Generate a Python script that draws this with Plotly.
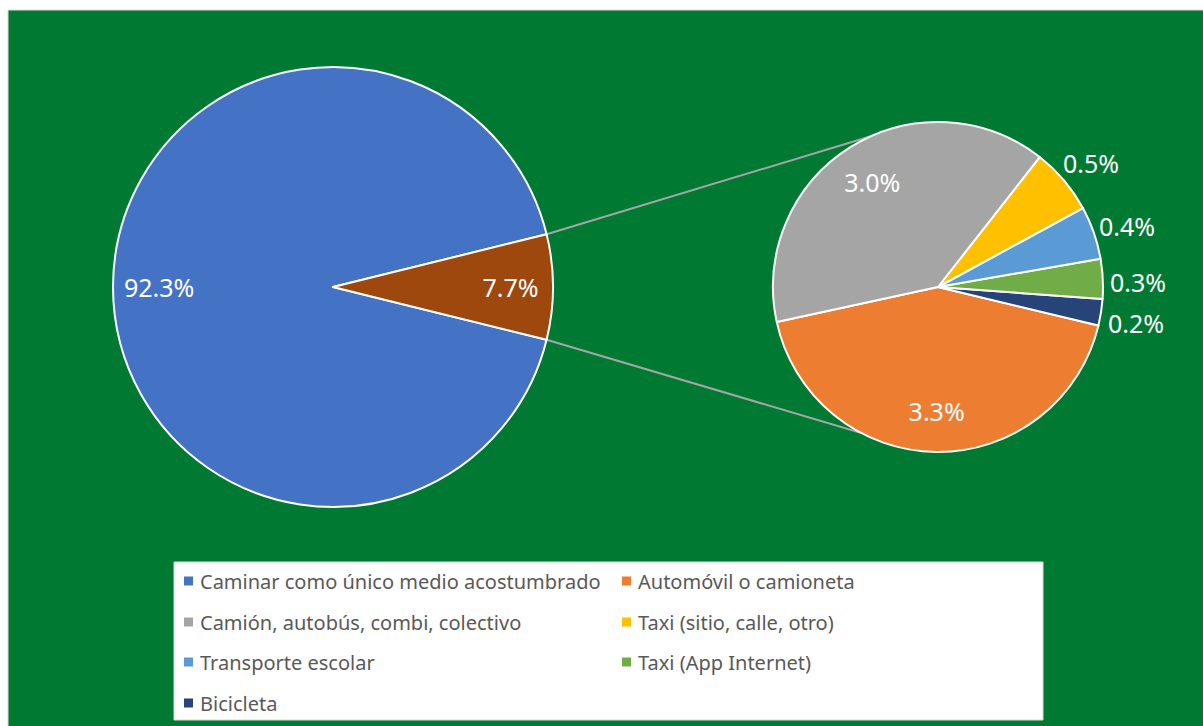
import plotly.graph_objects as go
import math

W, H = 1203, 726

# ---- data ----
main_labels = ["Caminar como único medio acostumbrado", "Otros medios"]
main_values = [92.3, 7.7]
main_colors = ["#4472C4", "#9E480E"]

sub_labels = ["Automóvil o camioneta", "Bicicleta", "Taxi (App Internet)",
              "Transporte escolar", "Taxi (sitio, calle, otro)",
              "Camión, autobús, combi, colectivo"]
sub_values = [3.3, 0.2, 0.3, 0.4, 0.5, 3.0]
sub_colors = ["#ED7D31", "#264478", "#70AD47", "#5B9BD5", "#FFC000", "#A5A5A5"]
sub_outside = [False, True, True, True, True, False]

legend_order = ["Caminar como único medio acostumbrado", "Automóvil o camioneta",
                "Camión, autobús, combi, colectivo", "Taxi (sitio, calle, otro)",
                "Transporte escolar", "Taxi (App Internet)", "Bicicleta"]
color_of = dict(zip(main_labels, main_colors))
color_of.update(dict(zip(sub_labels, sub_colors)))

BG = "#007A33"
FONT = "Noto Sans"
LBL = 25


def px(x):
    return x / W


def py(y):
    return 1 - y / H


def fmt(v):
    return f"{v:.1f}%"


# geometry of the two pies (pixels)
c1, r1 = (333, 287), 220
c2, r2 = (938, 287), 165

half = main_values[1] / sum(main_values) * 360 / 2
dom1 = dict(x=[px(c1[0] - r1), px(c1[0] + r1)], y=[py(c1[1] + r1), py(c1[1] - r1)])
dom2 = dict(x=[px(c2[0] - r2), px(c2[0] + r2)], y=[py(c2[1] + r2), py(c2[1] - r2)])
clear = "rgba(0,0,0,0)"

fig = go.Figure()
# main pie (slices)
fig.add_trace(go.Pie(
    labels=main_labels, values=main_values, sort=False,
    direction="counterclockwise", rotation=90 + half,
    marker=dict(colors=main_colors, line=dict(color="white", width=2)),
    textinfo="none", domain=dom1, showlegend=False, hoverinfo="label+percent",
))
# main pie labels (transparent ring so the labels sit near the rim)
fig.add_trace(go.Pie(
    labels=main_labels, values=main_values, sort=False, hole=0.58,
    direction="counterclockwise", rotation=90 + half,
    marker=dict(colors=[clear] * 2, line=dict(width=0)),
    text=[fmt(v) for v in main_values], texttemplate="%{text}",
    textposition="inside", insidetextorientation="horizontal",
    textfont=dict(family=FONT, size=LBL, color="white"),
    domain=dom1, showlegend=False, hoverinfo="skip",
))

first_end = 346.5  # angle (deg, math convention) where the first slice ends
rot2 = 90 - first_end
fig.add_trace(go.Pie(
    labels=sub_labels, values=sub_values, sort=False,
    direction="counterclockwise", rotation=rot2,
    marker=dict(colors=sub_colors, line=dict(color="white", width=2)),
    textinfo="none", domain=dom2, showlegend=False, hoverinfo="label+value",
))
# inside labels of the secondary pie (transparent ring)
fig.add_trace(go.Pie(
    labels=sub_labels, values=sub_values, sort=False, hole=0.5,
    direction="counterclockwise", rotation=rot2,
    marker=dict(colors=[clear] * len(sub_values), line=dict(width=0)),
    text=["" if o else fmt(v) for v, o in zip(sub_values, sub_outside)],
    texttemplate="%{text}", textposition="inside", insidetextorientation="horizontal",
    textfont=dict(family=FONT, size=LBL, color="white"),
    domain=dom2, showlegend=False, hoverinfo="skip",
))

annotations = []
# outside labels of the secondary pie, at a fixed radius along each slice bisector
sub_total = sum(sub_values)
ang = first_end
lab_r = 200
for v, o in zip(sub_values[1:], sub_outside[1:]):
    span = v / sub_total * 360
    mid = math.radians(ang + span / 2)
    ang += span
    if o:
        annotations.append(dict(
            text=fmt(v), xref="paper", yref="paper", showarrow=False,
            x=px(c2[0] + lab_r * math.cos(mid)), y=py(c2[1] - lab_r * math.sin(mid) + 5),
            xanchor="center", yanchor="middle",
            font=dict(family=FONT, size=LBL, color="white")))

shapes = [dict(type="rect", xref="paper", yref="paper", layer="below",
               x0=px(8), x1=px(W + 2), y0=py(H + 2), y1=py(10),
               fillcolor=BG, line=dict(color="#D9D9D9", width=1))]

# connector lines from the "otros" slice edges to the secondary pie
a = math.radians(half)
p_up = (c1[0] + r1 * math.cos(a), c1[1] - r1 * math.sin(a))
p_dn = (c1[0] + r1 * math.cos(a), c1[1] + r1 * math.sin(a))
q_up_ang, q_dn_ang = math.radians(114), math.radians(242)
q_up = (c2[0] + r2 * math.cos(q_up_ang), c2[1] - r2 * math.sin(q_up_ang))
q_dn = (c2[0] + r2 * math.cos(q_dn_ang), c2[1] - r2 * math.sin(q_dn_ang))
for p, q in [(p_up, q_up), (p_dn, q_dn)]:
    shapes.append(dict(type="line", xref="paper", yref="paper", layer="below",
                       x0=px(p[0]), y0=py(p[1]), x1=px(q[0]), y1=py(q[1]),
                       line=dict(color="#A5A5A5", width=2)))

# legend box (manual, two columns)
lx0, ly0, lx1, ly1 = 174, 562, 1043, 720
shapes.append(dict(type="rect", xref="paper", yref="paper", layer="above",
                   x0=px(lx0), x1=px(lx1), y0=py(ly1), y1=py(ly0),
                   fillcolor="white", line=dict(color="#D9D9D9", width=1)))
col_x = [184, 622]
row_y = [581, 622, 662, 703]
for i, lab in enumerate(legend_order):
    cx = col_x[i % 2]
    cy = row_y[i // 2]
    shapes.append(dict(type="rect", xref="paper", yref="paper", layer="above",
                       x0=px(cx), x1=px(cx + 9), y0=py(cy + 4.5), y1=py(cy - 4.5),
                       fillcolor=color_of[lab], line=dict(width=0)))
    annotations.append(dict(text=lab, xref="paper", yref="paper",
                            x=px(cx + 14), y=py(cy), xanchor="left", yanchor="middle",
                            showarrow=False,
                            font=dict(family=FONT, size=20, color="#595959")))

fig.update_layout(
    width=W, height=H, margin=dict(l=0, r=0, t=0, b=0),
    paper_bgcolor="white", plot_bgcolor="white",
    shapes=shapes, annotations=annotations,
)

fig.write_html("out.html")
